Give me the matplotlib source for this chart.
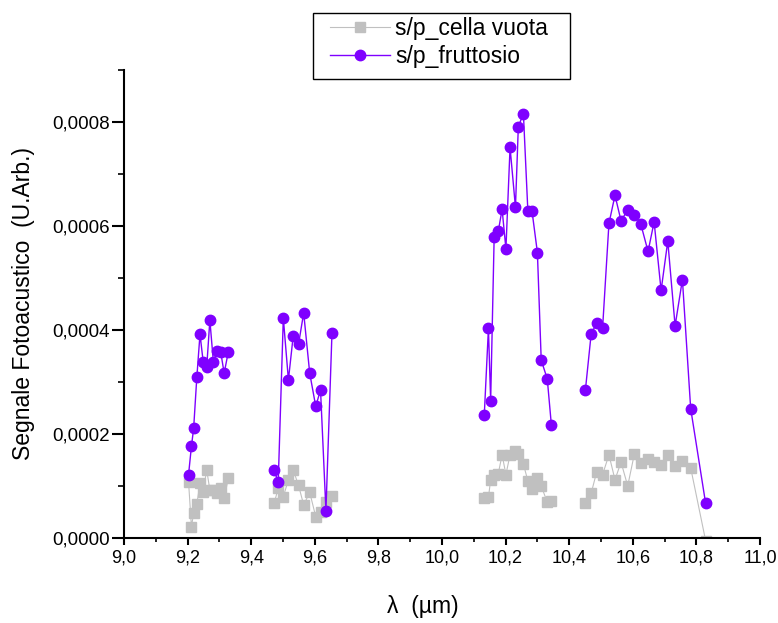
import matplotlib
matplotlib.use("Agg")
import matplotlib.pyplot as plt
from matplotlib.ticker import MultipleLocator, FuncFormatter
from matplotlib.patches import Rectangle
import numpy as np

plt.rcParams["font.family"] = ["Liberation Sans", "DejaVu Sans"]

# wavelength (um), four scan windows
wl_1 = [9.203, 9.212, 9.219, 9.229, 9.239, 9.249, 9.260, 9.270, 9.281, 9.293, 9.304, 9.315, 9.328]
wl_2 = [9.472, 9.485, 9.501, 9.517, 9.532, 9.549, 9.565, 9.584, 9.603, 9.618, 9.635, 9.654]
wl_3 = [10.133, 10.146, 10.153, 10.164, 10.177, 10.189, 10.201, 10.214, 10.231, 10.240,
        10.256, 10.270, 10.283, 10.300, 10.312, 10.331, 10.344]
wl_4 = [10.451, 10.469, 10.486, 10.505, 10.525, 10.544, 10.563, 10.584, 10.605, 10.625,
        10.648, 10.667, 10.689, 10.710, 10.733, 10.756, 10.782, 10.829]

# s/p_fruttosio
fr_1 = [0.000122, 0.000176, 0.000211, 0.000309, 0.000392, 0.000339, 0.000328, 0.000419,
        0.000339, 0.000360, 0.000358, 0.000317, 0.000358]
fr_2 = [0.000130, 0.000108, 0.000423, 0.000304, 0.000388, 0.000373, 0.000433, 0.000317,
        0.000253, 0.000285, 0.0000525, 0.000394]
fr_3 = [0.000237, 0.000403, 0.000264, 0.000578, 0.000590, 0.000632, 0.000556, 0.000751,
        0.000636, 0.000791, 0.000816, 0.000629, 0.000629, 0.000549, 0.000342, 0.000306, 0.000217]
fr_4 = [0.000285, 0.000392, 0.000413, 0.000404, 0.000605, 0.000659, 0.000610, 0.000631,
        0.000622, 0.000604, 0.000551, 0.000608, 0.000476, 0.000571, 0.000408, 0.000497,
        0.000249, 0.0000667]

# s/p_cella vuota
cv_1 = [0.000108, 0.0000218, 0.0000474, 0.0000654, 0.000105, 0.0000891, 0.000131, 0.0000923,
        0.0000920, 0.0000860, 0.0000955, 0.0000763, 0.000115]
cv_2 = [0.0000667, 0.0000955, 0.0000795, 0.000112, 0.000131, 0.000101, 0.0000635, 0.0000878,
        0.0000410, 0.0000506, 0.0000700, 0.0000814]
cv_3 = [0.0000775, 0.0000780, 0.000112, 0.000122, 0.000124, 0.000160, 0.000122, 0.000160,
        0.000168, 0.000162, 0.000142, 0.000110, 0.0000940, 0.000115, 0.000100, 0.0000690, 0.0000720]
cv_4 = [0.0000667, 0.0000859, 0.000126, 0.000122, 0.000160, 0.000112, 0.000146, 0.000100,
        0.000162, 0.000144, 0.000151, 0.000146, 0.000141, 0.000160, 0.000138, 0.000149,
        0.000135, -0.000005]


def join(*parts):
    # NaN between windows so the line breaks
    out = []
    for i, p in enumerate(parts):
        if i:
            out.append(np.nan)
        out.extend(p)
    return np.array(out, dtype=float)


wl = join(wl_1, wl_2, wl_3, wl_4)
fr = join(fr_1, fr_2, fr_3, fr_4)
cv = join(cv_1, cv_2, cv_3, cv_4)

W, H = 778, 623
fig = plt.figure(figsize=(W / 100, H / 100), dpi=100)
ax = fig.add_axes([124 / W, 1 - 538 / H, 636 / W, 468 / H])

ax.plot(wl, cv, color="#c0c0c0", lw=0.8, marker="s", ms=6.8,
        mfc="#c0c0c0", mec="#c0c0c0", label="s/p_cella vuota", zorder=2)
ax.plot(wl, fr, color="#7f00ff", lw=1.0, marker="o", ms=7.5,
        mfc="#7f00ff", mec="#7f00ff", label="s/p_fruttosio", zorder=3)

ax.set_xlim(9.0, 11.0)
ax.set_ylim(0.0, 0.0009)

ax.xaxis.set_major_locator(MultipleLocator(0.2))
ax.xaxis.set_minor_locator(MultipleLocator(0.1))
ax.yaxis.set_major_locator(MultipleLocator(0.0002))
ax.yaxis.set_minor_locator(MultipleLocator(0.0001))
ax.xaxis.set_major_formatter(FuncFormatter(lambda v, p: f"{v:.1f}".replace(".", ",")))
ax.yaxis.set_major_formatter(FuncFormatter(lambda v, p: f"{v:.4f}".replace(".", ",")))

for side in ["top", "right"]:
    ax.spines[side].set_visible(False)
for side in ["left", "bottom"]:
    ax.spines[side].set_linewidth(1.5)

ax.tick_params(axis="x", which="major", direction="out", length=5, width=1.5, labelsize=13, pad=3)
ax.tick_params(axis="x", which="minor", direction="out", length=3, width=1.2)
ax.tick_params(axis="y", which="major", direction="out", length=9, width=1.5, labelsize=13.5, pad=1.5)
ax.tick_params(axis="y", which="minor", direction="out", length=4.5, width=1.2)

ax.set_xlabel("λ  (µm)", fontsize=16.5)
ax.xaxis.set_label_coords(0.470, -0.122)
ax.set_ylabel("Segnale Fotoacustico  (U.Arb.)", fontsize=16.5)
ax.yaxis.set_label_coords(-0.140, 0.5)

# legend contents without frame, box drawn separately
leg = ax.legend(loc="upper left", bbox_to_anchor=(330 / W, 1 - 17 / H),
                bbox_transform=fig.transFigure, fontsize=16.5, frameon=False,
                handlelength=2.6, borderpad=0, borderaxespad=0,
                labelspacing=0.22, handletextpad=0.25)
fig.patches.append(Rectangle((313 / W, 1 - 79 / H), 257 / W, 66 / H,
                             transform=fig.transFigure, fill=False,
                             edgecolor="black", lw=1.0))

fig.savefig("out.png", dpi=100)
